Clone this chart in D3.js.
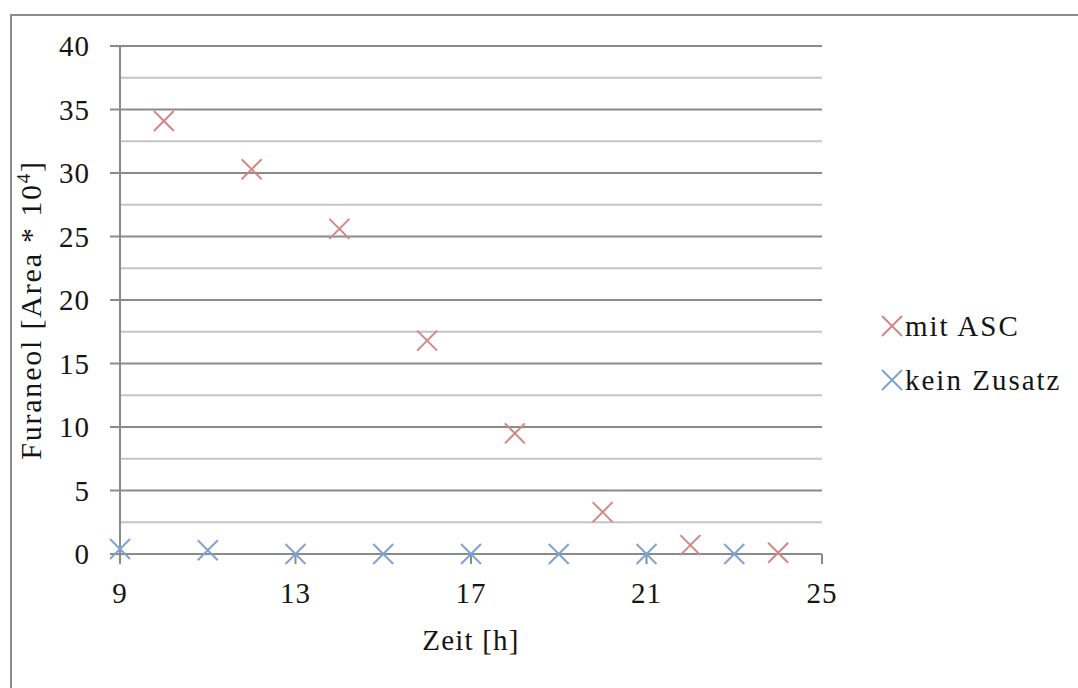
<!DOCTYPE html>
<html>
<head>
<meta charset="utf-8">
<script src="https://cdn.jsdelivr.net/npm/d3@7"></script>
<style>
  html, body { margin: 0; padding: 0; background: #fff; }
  svg { display: block; }
  text { font-family: "Liberation Serif", "DejaVu Serif", serif; fill: #151515; }
</style>
</head>
<body>
<svg id="chart" width="1078" height="688"></svg>
<script>
// Furaneol measurements over time
const timesASC = [10, 12, 14, 16, 18, 20, 22, 24];
const valuesASC = [34.1, 30.3, 25.6, 16.8, 9.5, 3.3, 0.7, 0.1];
const timesPlain = [9, 11, 13, 15, 17, 19, 21, 23];
const valuesPlain = [0.4, 0.3, 0.0, 0.0, 0.0, 0.0, 0.0, 0.0];
const xTicks = [9, 13, 17, 21, 25];
const yMajorTicks = [0, 5, 10, 15, 20, 25, 30, 35, 40];
const yMinorTicks = [2.5, 7.5, 12.5, 17.5, 22.5, 27.5, 32.5, 37.5];
const seriesNames = ["mit ASC", "kein Zusatz"];
const seriesColors = ["#d38686", "#7fa3d1"];

const svg = d3.select("#chart");
const plot = { left: 120, right: 822, top: 46, bottom: 554 };

const x = d3.scaleLinear().domain([9, 25]).range([plot.left, plot.right]);
const y = d3.scaleLinear().domain([0, 40]).range([plot.bottom, plot.top]);

// outer frame (continues past right and bottom edges)
svg.append("path")
  .attr("d", "M11,700 L11,15 L1090,15")
  .attr("fill", "none").attr("stroke", "#8c8c8c").attr("stroke-width", 2);

// minor gridlines
svg.append("g").selectAll("line").data(yMinorTicks).join("line")
  .attr("x1", plot.left).attr("x2", plot.right)
  .attr("y1", d => y(d)).attr("y2", d => y(d))
  .attr("stroke", "#c4c4c4").attr("stroke-width", 2);

// major gridlines extend left as tick marks
svg.append("g").selectAll("line").data(yMajorTicks).join("line")
  .attr("x1", plot.left - 10).attr("x2", plot.right)
  .attr("y1", d => y(d)).attr("y2", d => y(d))
  .attr("stroke", "#8a8a8a").attr("stroke-width", 2);

// y axis line
svg.append("line")
  .attr("x1", plot.left).attr("x2", plot.left)
  .attr("y1", plot.top).attr("y2", plot.bottom + 10)
  .attr("stroke", "#8a8a8a").attr("stroke-width", 2);

// x axis tick marks
svg.append("g").selectAll("line").data(xTicks).join("line")
  .attr("x1", d => x(d)).attr("x2", d => x(d))
  .attr("y1", plot.bottom).attr("y2", plot.bottom + 10)
  .attr("stroke", "#8a8a8a").attr("stroke-width", 2);

// y tick labels
svg.append("g").selectAll("text").data(yMajorTicks).join("text")
  .attr("x", 90).attr("y", d => y(d))
  .attr("text-anchor", "end").attr("dominant-baseline", "central")
  .attr("font-size", 29).attr("letter-spacing", 1).text(d => d);

// x tick labels
svg.append("g").selectAll("text").data(xTicks).join("text")
  .attr("x", d => x(d)).attr("y", 603)
  .attr("text-anchor", "middle")
  .attr("font-size", 29).attr("letter-spacing", 1).text(d => d);

// axis titles
svg.append("text")
  .attr("x", 471).attr("y", 650)
  .attr("text-anchor", "middle").attr("font-size", 29).attr("letter-spacing", 1.2)
  .text("Zeit [h]");

const yTitle = svg.append("text")
  .attr("transform", "translate(41,310) rotate(-90)")
  .attr("text-anchor", "middle").attr("font-size", 30).attr("letter-spacing", 1.8);
yTitle.append("tspan").text("Furaneol [Area * 10");
yTitle.append("tspan").attr("font-size", 19).attr("dy", -11).text("4");
yTitle.append("tspan").attr("dy", 11).text("]");

// cross markers
function crosses(times, values, color) {
  const pts = d3.zip(times, values);
  svg.append("g").selectAll("path").data(pts).join("path")
    .attr("d", d => {
      const cx = x(d[0]), cy = y(d[1]), r = 10;
      return `M${cx - r},${cy - r}L${cx + r},${cy + r}M${cx - r},${cy + r}L${cx + r},${cy - r}`;
    })
    .attr("stroke", color).attr("stroke-width", 2).attr("fill", "none");
}
crosses(timesPlain, valuesPlain, seriesColors[1]);
crosses(timesASC, valuesASC, seriesColors[0]);

// legend
const legend = svg.append("g").selectAll("g").data(seriesNames).join("g")
  .attr("transform", (d, i) => `translate(892,${326 + i * 54})`);
legend.append("path")
  .attr("d", "M-10,-10L10,10M-10,10L10,-10")
  .attr("stroke", (d, i) => seriesColors[i]).attr("stroke-width", 2).attr("fill", "none");
legend.append("text")
  .attr("x", 13).attr("y", 0).attr("dominant-baseline", "central")
  .attr("font-size", 29).attr("letter-spacing", 2).text(d => d);
</script>
</body>
</html>
